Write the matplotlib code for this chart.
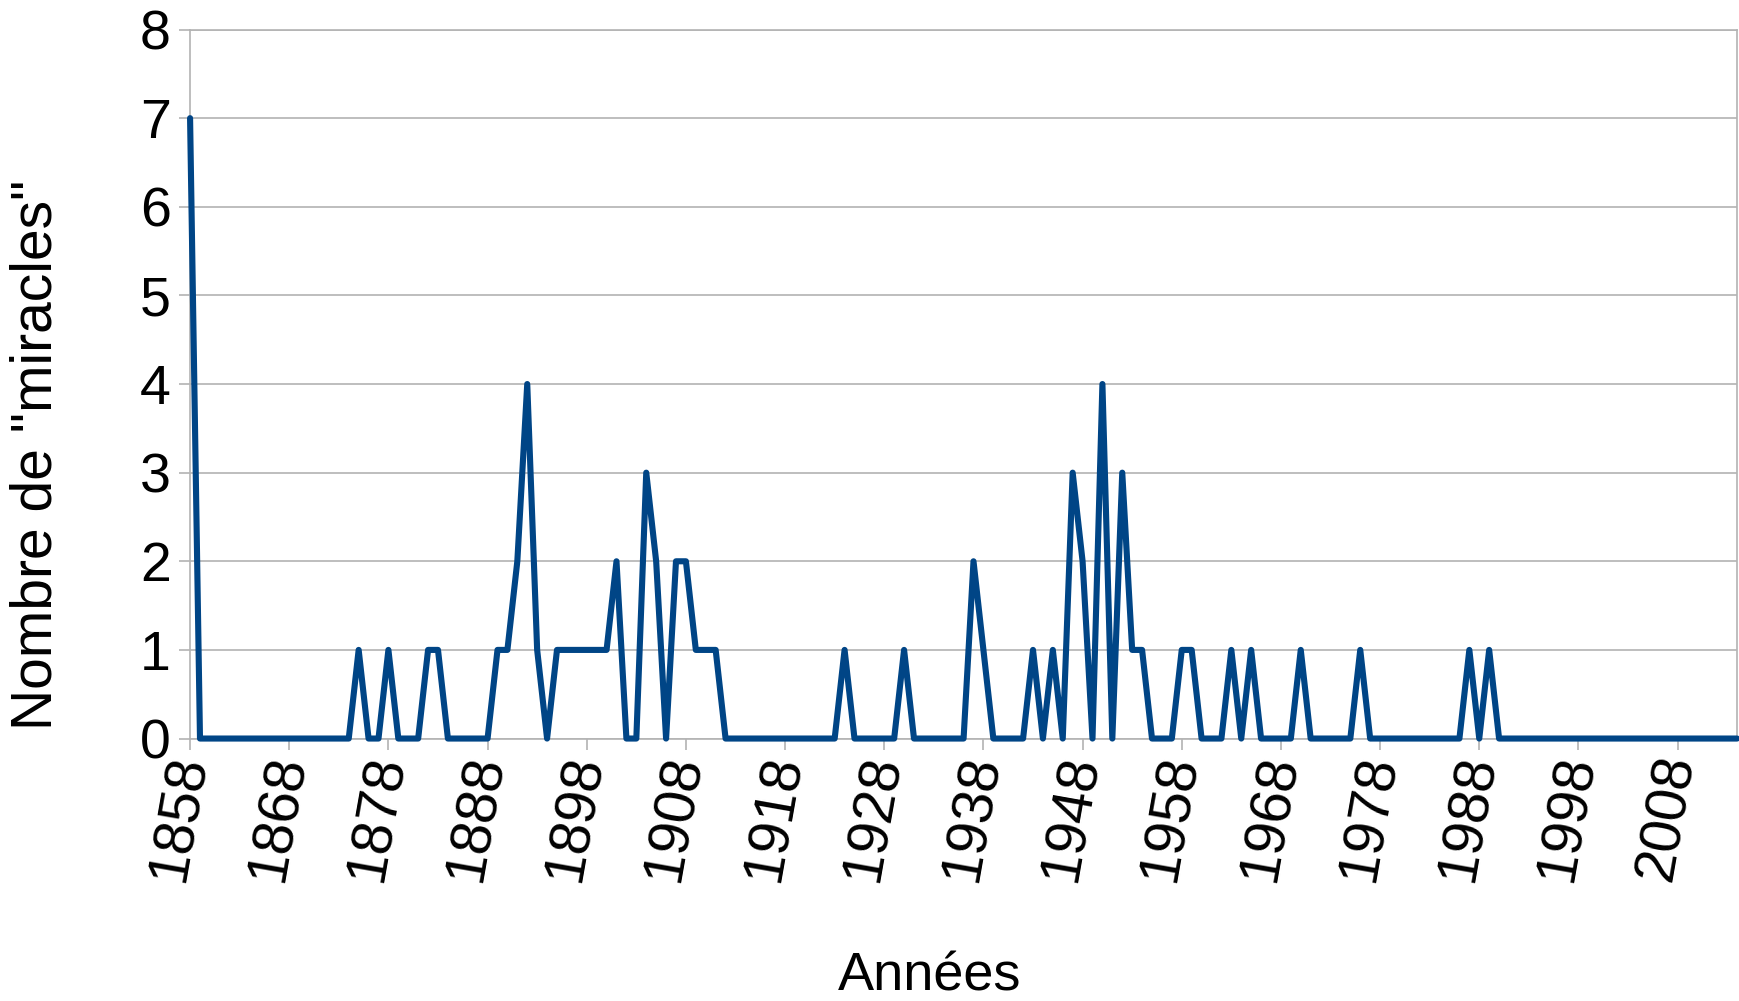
import matplotlib
matplotlib.use('Agg')
import matplotlib.pyplot as plt

plt.rcParams['font.family'] = ['Liberation Sans', 'DejaVu Sans']

# Nombre de "miracles" par annee, de 1858 a 2014
annees = list(range(1858, 2015))
miracles = [
    7, 0, 0, 0, 0, 0, 0, 0, 0, 0,   # 1858-1867
    0, 0, 0, 0, 0, 0, 0, 1, 0, 0,   # 1868-1877
    1, 0, 0, 0, 1, 1, 0, 0, 0, 0,   # 1878-1887
    0, 1, 1, 2, 4, 1, 0, 1, 1, 1,   # 1888-1897
    1, 1, 1, 2, 0, 0, 3, 2, 0, 2,   # 1898-1907
    2, 1, 1, 1, 0, 0, 0, 0, 0, 0,   # 1908-1917
    0, 0, 0, 0, 0, 0, 1, 0, 0, 0,   # 1918-1927
    0, 0, 1, 0, 0, 0, 0, 0, 0, 2,   # 1928-1937
    1, 0, 0, 0, 0, 1, 0, 1, 0, 3,   # 1938-1947
    2, 0, 4, 0, 3, 1, 1, 0, 0, 0,   # 1948-1957
    1, 1, 0, 0, 0, 1, 0, 1, 0, 0,   # 1958-1967
    0, 0, 1, 0, 0, 0, 0, 0, 1, 0,   # 1968-1977
    0, 0, 0, 0, 0, 0, 0, 0, 0, 1,   # 1978-1987
    0, 1, 0, 0, 0, 0, 0, 0, 0, 0,   # 1988-1997
    0, 0, 0, 0, 0, 0, 0, 0, 0, 0,   # 1998-2007
    0, 0, 0, 0, 0, 0, 0,            # 2008-2014
]
ticks_annees = list(range(1858, 2015, 10))
ticks_y = list(range(0, 9))

gris = '#b3b3b3'
bleu = '#004586'

fig = plt.figure(figsize=(17.39, 10.01), dpi=100)
ax = fig.add_axes([0.1093, 0.2622, 0.8896, 0.7083])

ax.plot(annees, miracles, color=bleu, linewidth=4.4,
        solid_joinstyle='round', solid_capstyle='round', clip_on=False, zorder=3)

ax.set_xlim(annees[0], annees[-1])
ax.set_ylim(0, 8)
ax.set_xticks(ticks_annees)
ax.set_yticks(ticks_y)

ax.grid(axis='y', color=gris, linewidth=1.2)
ax.set_axisbelow(True)
for s in ax.spines.values():
    s.set_color(gris)
    s.set_linewidth(1.2)

ax.tick_params(axis='both', colors=gris, length=8, width=1.2, labelcolor='black', labelsize=40)
ax.tick_params(axis='y', pad=6)
ax.tick_params(axis='x', pad=4, labelsize=41)
for lab in ax.get_xticklabels():
    lab.set_rotation(80)
    lab.set_ha('right')
    lab.set_va('center')
    lab.set_rotation_mode('anchor')

ax.set_xlabel('Années', fontsize=39, va='center')
ax.set_ylabel('Nombre de "miracles"', fontsize=41, va='center')
ax.xaxis.set_label_coords(0.478, -0.335)
ax.yaxis.set_label_coords(-0.099, 0.40)

fig.savefig('out.png', dpi=100)
